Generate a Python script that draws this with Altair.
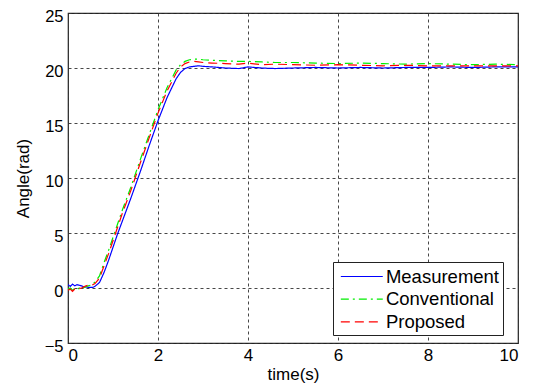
import altair as alt
import pandas as pd

T = [0, 0.05, 0.1, 0.15, 0.2, 0.25, 0.3, 0.35, 0.4, 0.45, 0.5, 0.55, 0.6, 0.7, 0.8, 0.9,
     1.0, 1.1, 1.2, 1.4, 1.6, 1.8, 2.0, 2.2, 2.4, 2.5, 2.6, 2.7, 2.8, 2.9, 3.0, 3.2, 3.5,
     3.8, 4.0, 4.3, 4.6, 5.0, 5.5, 6.0, 6.5, 7.0, 7.5, 8.0, 8.5, 9.0, 9.5, 10.0]

measurement = [0.3, 0.15, 0.35, 0.2, 0.3, 0.25, 0.2, 0.1, 0.1, 0.05, 0.05, 0.05, 0.15, 0.5,
               1.4, 2.5, 3.7, 4.9, 6.0, 8.2, 10.5, 12.9, 15.2, 17.3, 19.0, 19.6, 19.95,
               20.1, 20.15, 20.2, 20.15, 20.1, 20.0, 19.95, 20.1, 20.0, 19.95, 20.0, 20.05,
               20.0, 20.05, 20.0, 20.05, 20.05, 20.1, 20.05, 20.1, 20.1]

conventional = [-0.1, 0.0, -0.2, -0.05, -0.15, 0.0, -0.1, 0.05, 0.1, 0.2, 0.25, 0.35, 0.55,
                1.1, 2.3, 3.4, 4.6, 5.8, 7.0, 9.2, 11.6, 13.9, 16.2, 18.2, 19.8, 20.3, 20.6,
                20.75, 20.8, 20.8, 20.75, 20.7, 20.65, 20.6, 20.6, 20.55, 20.5, 20.5, 20.45,
                20.4, 20.45, 20.4, 20.35, 20.4, 20.35, 20.3, 20.35, 20.3]

proposed = [-0.2, -0.1, -0.3, -0.1, -0.2, -0.05, 0.0, 0.1, 0.2, 0.25, 0.2, 0.3, 0.4, 0.9,
            2.0, 3.1, 4.3, 5.5, 6.7, 8.9, 11.3, 13.6, 15.9, 17.9, 19.5, 20.1, 20.4, 20.55,
            20.6, 20.55, 20.5, 20.45, 20.4, 20.35, 20.45, 20.3, 20.35, 20.3, 20.25, 20.3,
            20.25, 20.2, 20.25, 20.2, 20.2, 20.2, 20.2, 20.2]

series_names = ["Measurement", "Conventional", "Proposed"]
colors = ["#0000ff", "#00ee00", "#ff0000"]
dashes = [[1, 0], [8, 4, 2, 4], [9, 5]]

rows = []
for name, vals in zip(series_names, [measurement, conventional, proposed]):
    for i, (t, v) in enumerate(zip(T, vals)):
        rows.append({"t": t, "v": v, "series": name, "i": i})
df = pd.DataFrame(rows)

FONT = "Liberation Sans"

chart = alt.Chart(df).mark_line(strokeWidth=1.2, clip=True).encode(
    x=alt.X("t:Q", scale=alt.Scale(domain=[0, 10], nice=False),
            axis=alt.Axis(title="time(s)", values=[0, 2, 4, 6, 8, 10], format="d")),
    y=alt.Y("v:Q", scale=alt.Scale(domain=[-5, 25], nice=False),
            axis=alt.Axis(title="Angle(rad)", values=[-5, 0, 5, 10, 15, 20, 25], format="d")),
    color=alt.Color("series:N", sort=series_names,
                    scale=alt.Scale(domain=series_names, range=colors),
                    legend=alt.Legend(title=None)),
    strokeDash=alt.StrokeDash("series:N", sort=series_names,
                              scale=alt.Scale(domain=series_names, range=dashes),
                              legend=alt.Legend(title=None)),
    order="i:Q",
).properties(
    width=450, height=330,
    autosize=alt.AutoSizeParams(type="none"),
    padding={"left": 60, "top": 5, "right": 10, "bottom": 41},
).configure_view(
    stroke="#222222", strokeWidth=1.2
).configure_axis(
    labelFont=FONT, titleFont=FONT, labelFontSize=17, titleFontSize=17,
    labelColor="black", titleColor="black", titleFontWeight="normal",
    grid=True, gridColor="#333333", gridDash=[3, 3], gridOpacity=0.9, gridWidth=1,
    domain=False, ticks=False,
).configure_axisY(
    titlePadding=12, labelPadding=5, labelOffset=3, labelFontSize=16.5
).configure_axisX(
    titlePadding=3, labelPadding=4
).configure_legend(
    orient="none", legendX=265, legendY=249,
    strokeColor="#222222", fillColor="white", padding=3,
    symbolType="M-1.96,0H1.96", symbolSize=458, symbolStrokeWidth=1.2,
    symbolOffset=14.3,
    labelFont=FONT, labelFontSize=18.5, labelColor="black",
    rowPadding=1.7, labelOffset=12.6, cornerRadius=0,
)

chart.save("out.html", embed_options={"renderer": "svg", "actions": False})
